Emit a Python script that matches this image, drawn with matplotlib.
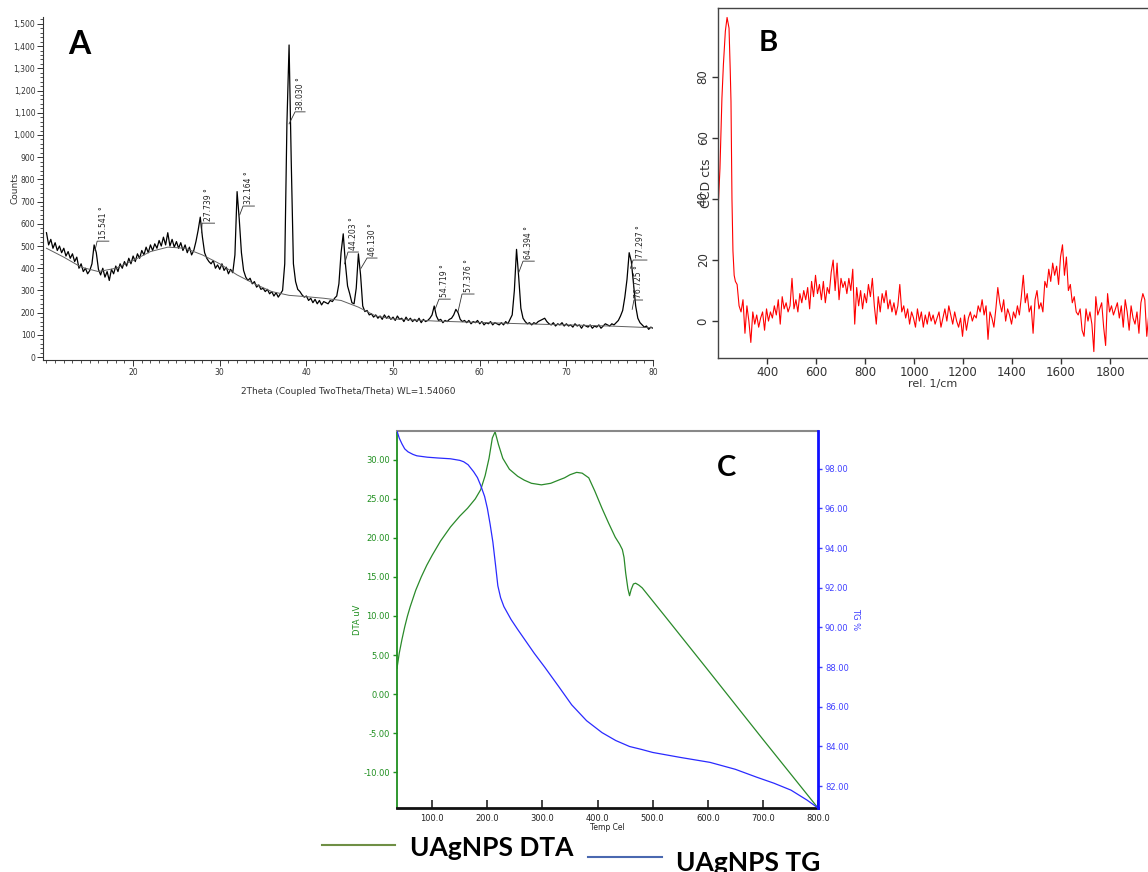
import numpy as np
import matplotlib.pyplot as plt
from matplotlib.ticker import MultipleLocator, StrMethodFormatter
from matplotlib.lines import Line2D

plt.rcParams['axes.unicode_minus'] = False

# ---------------- Panel A : XRD pattern (2theta 10..80, step 0.25) ----------------
xrd_counts = [
    560, 505, 530, 490, 515, 480, 500, 470, 490, 455,
    475, 445, 465, 430, 450, 400, 420, 385, 400, 375,
    390, 420, 505, 470, 395, 370, 400, 360, 385, 345,
    395, 375, 410, 385, 420, 400, 430, 410, 445, 420,
    455, 430, 465, 445, 480, 460, 495, 470, 505, 480,
    510, 490, 525, 500, 540, 505, 560, 500, 530, 495,
    520, 490, 515, 480, 505, 470, 495, 460, 480, 520,
    570, 630, 540, 470, 445, 430, 420, 435, 400, 415,
    395, 420, 390, 405, 375, 395, 380, 460, 745, 620,
    470, 390, 360, 345, 355, 330, 340, 315, 325, 305,
    310, 295, 305, 285, 295, 275, 290, 270, 285, 300,
    420, 1050, 1405, 880, 420, 340, 305, 295, 280, 270,
    275, 255, 265, 245, 260, 240, 255, 235, 250, 245,
    240, 255, 250, 265, 275, 330, 470, 555, 420, 320,
    285, 245, 240, 310, 465, 370, 230, 205, 210, 190,
    195, 180, 190, 175, 185, 170, 190, 175, 185, 170,
    180, 165, 185, 170, 175, 160, 180, 165, 175, 160,
    170, 160, 175, 155, 170, 160, 165, 175, 190, 230,
    185, 165, 170, 155, 165, 160, 170, 175, 190, 215,
    200, 170, 160, 165, 155, 165, 150, 160, 155, 165,
    150, 160, 145, 155, 150, 160, 145, 155, 150, 145,
    155, 145, 160, 150, 170, 190, 300, 485, 360, 220,
    175, 160, 150, 155, 145, 155, 150, 160, 165, 170,
    175, 160, 150, 145, 155, 140, 150, 145, 155, 140,
    150, 140, 145, 135, 150, 140, 145, 130, 145, 140,
    135, 145, 130, 140, 135, 145, 130, 140, 150, 145,
    140, 150, 145, 155, 165, 185, 210, 270, 350, 470,
    430, 330, 230, 175, 155, 145, 135, 140, 125, 135,
    130,
]
xrd_theta = np.arange(len(xrd_counts)) * 0.25 + 10.0

bg_theta = [10, 12, 14, 16, 18, 20, 22, 24, 26, 28, 30, 32, 34, 36, 38, 40,
            42, 44, 46, 48, 50, 55, 60, 65, 70, 75, 80]
bg_counts = [490, 450, 405, 385, 400, 435, 475, 495, 490, 460, 420, 370, 330,
             295, 278, 272, 265, 255, 225, 185, 172, 162, 156, 150, 145, 140, 132]

peak_labels = ['15.541 °', '27.739 °', '32.164 °', '38.030 °', '44.203 °', '46.130 °',
               '54.719 °', '57.376 °', '64.394 °', '77.297 °', '76.725 °']
peak_theta = [15.6, 27.9, 32.3, 38.0, 44.4, 46.3, 54.9, 57.5, 64.5, 77.4, 77.6]
peak_from = [480, 560, 640, 1050, 420, 400, 220, 205, 380, 400, 215]
bar_counts = [522, 603, 680, 1104, 473, 446, 261, 284, 432, 437, 257]
bar_x0 = [15.85, 27.96, 32.69, 38.69, 44.8, 47.0, 55.3, 57.96, 65.0, 77.7, 77.8]
bar_x1 = [17.2, 29.4, 34.0, 39.85, 46.0, 48.15, 56.6, 59.35, 66.3, 79.3, 78.8]

# ---------------- Panel B : Raman spectrum ----------------
raman_peak_shift = [200, 208, 216, 222, 230, 237, 245, 250, 253, 257, 261, 266, 271]
raman_peak_counts = [36, 50, 73, 84, 95, 99.5, 96, 82, 72, 40, 23, 15, 13]
raman_counts = [
    12, 5, 3, 7, -4, 5, 0, -7, 3, -1,
    2, -2, 1, 3, -3, 4, 0, 3, 1, 5,
    2, 7, -1, 8, 4, 6, 3, 5, 14, 4,
    7, 3, 9, 6, 10, 7, 11, 4, 13, 8,
    15, 9, 12, 7, 13, 6, 11, 9, 16, 20,
    10, 19, 7, 14, 11, 13, 9, 14, 10, 17,
    -1, 11, 5, 10, 4, 9, 6, 12, 8, 14,
    5, -1, 8, 3, 9, 6, 10, 4, 7, 3,
    6, 2, 5, 12, 3, 5, 1, 4, -1, 3,
    1, -2, 4, 0, 3, -2, 2, -1, 3, 0,
    2, -1, 1, 3, -2, 1, 4, 0, 5, 2,
    -1, 3, 0, -2, 1, -5, 2, -3, 1, 3,
    0, 2, 1, 5, 3, 7, 2, 5, -6, 3,
    1, -2, 4, 11, 6, 3, 7, 0, 4, 2,
    -1, 3, 1, 5, 2, 8, 15, 6, 9, 3,
    5, -4, 7, 10, 4, 6, 3, 13, 11, 17,
    13, 19, 15, 18, 12, 21, 25, 15, 21, 10,
    12, 6, 8, 3, 2, 4, -3, -5, 4, 0,
    3, -1, -10, 8, 2, 4, 6, -2, -8, 9,
    3, 5, 2, 4, 6, 1, 5, -2, 7, 3,
    -3, 5, 1, -1, 3, -4, 6, 9, 7, -5,
    2,
]
raman_shift = np.concatenate([raman_peak_shift, 278 + 8 * np.arange(len(raman_counts))])
raman_all = np.concatenate([raman_peak_counts, raman_counts])

# ---------------- Panel C : DTA / TG ----------------
dta_temp = [36, 40, 45, 50, 55, 60, 70, 80, 90, 100, 115, 133, 150, 164, 178, 188,
            196, 203, 209, 214, 220, 228, 240, 255, 267, 280, 298, 315, 329, 340,
            350, 362, 372, 384, 395, 408, 420, 432, 440, 445, 448, 451, 455, 458,
            461, 465, 469, 475, 481, 522, 600, 700, 800]
dta_uv = [3.3, 5.2, 7.0, 8.6, 10.0, 11.2, 13.3, 15.0, 16.5, 17.8, 19.6, 21.4, 22.8,
          23.8, 25.0, 26.2, 28.0, 30.2, 32.8, 33.6, 32.0, 30.2, 28.8, 27.9, 27.4,
          27.0, 26.8, 27.0, 27.4, 27.7, 28.1, 28.4, 28.3, 27.7, 26.0, 23.8, 21.9,
          20.1, 19.2, 18.5, 17.5, 15.5, 13.5, 12.6, 13.4, 14.1, 14.2, 13.95, 13.6,
          10.0, 3.1, -5.8, -14.6]
tg_temp = [36, 40, 45, 50, 56, 65, 72, 91, 110, 133, 150, 157, 165, 175, 182, 188,
           195, 200, 205, 210, 215, 219, 224, 230, 237, 243, 255, 265, 285, 304, 330,
           353, 380, 408, 433, 458, 480, 500, 550, 604, 650, 689, 720, 751, 780, 800]
tg_pct = [99.9, 99.55, 99.25, 99.0, 98.85, 98.72, 98.65, 98.58, 98.54, 98.5, 98.42,
          98.35, 98.2, 97.85, 97.55, 97.15, 96.6, 96.0, 95.2, 94.3, 93.1, 92.1, 91.5,
          91.05, 90.7, 90.4, 89.9, 89.5, 88.7, 88.0, 87.0, 86.1, 85.3, 84.7, 84.3,
          84.0, 83.85, 83.7, 83.45, 83.2, 82.85, 82.45, 82.15, 81.8, 81.3, 80.9]

W, H = 1148, 872
fig = plt.figure(figsize=(W / 100, H / 100), dpi=100)
letter_font = ['Lato', 'DejaVu Sans']
legend_font = ['Lato', 'DejaVu Sans']

# ---- A ----
axA = fig.add_axes([43 / W, 1 - 360 / H, 610 / W, 343 / H])
axA.plot(xrd_theta, xrd_counts, color='black', lw=0.9)
axA.plot(bg_theta, bg_counts, color='#606060', lw=0.7)
axA.set_xlim(9.6, 80)
axA.set_ylim(-13, 1531)
axA.spines['top'].set_visible(False)
axA.spines['right'].set_visible(False)
for s in ('left', 'bottom'):
    axA.spines[s].set_linewidth(0.8)
    axA.spines[s].set_color('#333333')
axA.xaxis.set_minor_locator(MultipleLocator(1))
axA.yaxis.set_major_locator(MultipleLocator(100))
axA.yaxis.set_minor_locator(MultipleLocator(20))
axA.yaxis.set_major_formatter(StrMethodFormatter('{x:,.0f}'))
axA.set_xticks([20, 30, 40, 50, 60, 70, 80])
axA.tick_params(which='major', length=4, width=0.7, labelsize=5.5, colors='#333333', pad=1.5)
axA.tick_params(which='minor', length=2, width=0.6, colors='#333333')
axA.set_ylabel('Counts', fontsize=6.5, color='#333333', va='center')
axA.yaxis.set_label_coords(-0.046, 0.5)
axA.set_xlabel('2Theta (Coupled TwoTheta/Theta) WL=1.54060', fontsize=6.5, color='#333333', va='center')
axA.xaxis.set_label_coords(0.5, -0.093)
for lab, tp, yf, yb, x0, x1 in zip(peak_labels, peak_theta, peak_from, bar_counts, bar_x0, bar_x1):
    axA.plot([tp, x0, x1], [yf, yb, yb], color='#333333', lw=0.6)
    axA.text((x0 + x1) / 2, yb + 8, lab, rotation=90, fontsize=5.5, ha='center', va='bottom',
             color='#222222')
fig.text(79 / W, 1 - 45 / H, 'A', fontsize=23, fontweight='bold', ha='center', va='center',
         family=letter_font)

# ---- B ----
axB = fig.add_axes([718 / W, 1 - 358 / H, 1 - 718 / W, 350 / H])
axB.plot(raman_shift, raman_all, color='#ff0000', lw=0.8)
axB.set_xlim(200, 1955)
axB.set_ylim(-12.1, 102.6)
axB.spines['right'].set_visible(False)
for s in ('left', 'bottom', 'top'):
    axB.spines[s].set_linewidth(1.0)
    axB.spines[s].set_color('#444444')
axB.set_xticks(range(400, 1801, 200))
axB.set_yticks([0, 20, 40, 60, 80])
axB.tick_params(length=4, width=1, labelsize=8.5, colors='#333333', pad=2)
for t in axB.get_yticklabels():
    t.set_rotation(90)
    t.set_va('center')
axB.set_xlabel('rel. 1/cm', fontsize=8, color='#333333', va='center')
axB.xaxis.set_label_coords(0.5, -0.075)
axB.set_ylabel('CCD cts', fontsize=9, color='#333333', va='center')
axB.yaxis.set_label_coords(-0.026, 0.5)
fig.text(768 / W, 1 - 43 / H, 'B', fontsize=21, fontweight='bold', ha='center', va='center',
         family=letter_font)

# ---- C ----
green = '#1f8f1f'
blue = '#1010ff'
axC = fig.add_axes([397 / W, 1 - 808 / H, 421 / W, 377 / H])
axT = axC.twinx()
axC.plot(dta_temp, dta_uv, color='#2a8a2a', lw=0.9)
axT.plot(tg_temp, tg_pct, color='#2a2aff', lw=0.9)
axC.set_xlim(36, 800)
axC.set_ylim(-14.6, 33.7)
axT.set_ylim(80.9, 99.9)
axC.spines['right'].set_visible(False)
axC.spines['left'].set_color(green)
axC.spines['left'].set_linewidth(1.3)
axC.spines['bottom'].set_color('#111111')
axC.spines['bottom'].set_linewidth(2.0)
axC.spines['top'].set_color('#888888')
axC.spines['top'].set_linewidth(1.5)
for s in ('left', 'top', 'bottom'):
    axT.spines[s].set_visible(False)
axT.spines['right'].set_color(blue)
axT.spines['right'].set_linewidth(2.0)
axC.set_xticks(range(100, 801, 100))
axC.xaxis.set_major_formatter(StrMethodFormatter('{x:.1f}'))
axC.set_yticks(range(-10, 31, 5))
axC.yaxis.set_major_formatter(StrMethodFormatter('{x:.2f}'))
axT.set_yticks(range(82, 99, 2))
axT.yaxis.set_major_formatter(StrMethodFormatter('{x:.2f}'))
axC.tick_params(axis='x', direction='in', length=6, width=1.2, labelsize=6, colors='#222222', pad=4)
axC.tick_params(axis='y', direction='out', length=3, width=1, labelsize=6, colors=green, pad=2)
axT.tick_params(axis='y', direction='out', length=3, width=1, labelsize=6, colors='#4040ff', pad=2)
axC.set_xlabel('Temp Cel', fontsize=5.5, color='#222222', va='center')
axC.xaxis.set_label_coords(0.5, -0.053)
axC.set_ylabel('DTA uV', fontsize=6, color=green, va='center')
axC.yaxis.set_label_coords(-0.095, 0.5)
axT.set_ylabel('TG %', fontsize=6, color='#4040ff', rotation=270, va='center')
axT.yaxis.set_label_coords(1.088, 0.5)
fig.text(727 / W, 1 - 468 / H, 'C', fontsize=21, fontweight='bold', ha='center', va='center',
         family=letter_font)

# ---- legend under C ----
fig.add_artist(Line2D([322 / W, 395 / W], [1 - 845 / H, 1 - 845 / H], color='#6f8f45', lw=1.5))
fig.add_artist(Line2D([588 / W, 662 / W], [1 - 857 / H, 1 - 857 / H], color='#4a68b0', lw=1.5))
fig.text(410 / W, 1 - 856 / H, 'UAgNPS DTA', fontsize=19, fontweight='bold', ha='left',
         va='baseline', family=legend_font)
fig.text(676 / W, 1 - 871 / H, 'UAgNPS TG', fontsize=19, fontweight='bold', ha='left',
         va='baseline', family=legend_font)

fig.savefig('out.png', dpi=100)
